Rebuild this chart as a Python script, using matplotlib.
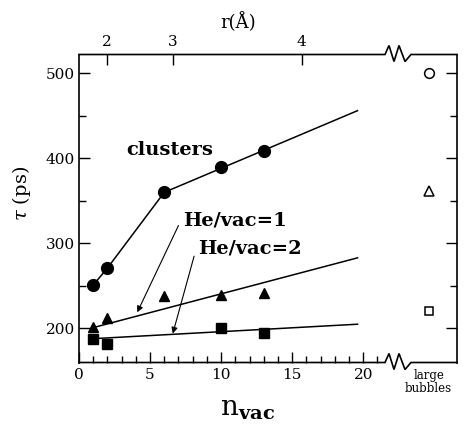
import matplotlib
matplotlib.use("Agg")
import matplotlib.pyplot as plt
from matplotlib import transforms
import numpy as np

plt.rcParams["font.family"] = "DejaVu Serif"
plt.rcParams["mathtext.fontset"] = "dejavuserif"

# lifetimes of vacancy clusters and helium-filled clusters
n_vac = [1, 2, 6, 10, 13]
tau_clusters = [251, 271, 360, 390, 409]
tau_he1 = [202, 212, 238, 239, 242]
n_vac_he2 = [1, 2, 10, 13]
tau_he2 = [188, 182, 200, 195]

# straight-line trends
cluster_fit_n = [6, 19.6]
cluster_fit_tau = [360, 456]
he1_fit_n = [1, 19.6]
he1_fit_tau = [201, 283]
he2_fit_n = [1, 19.6]
he2_fit_tau = [188, 205]

# large bubbles limit
bubble_tau = [500, 362, 221]
bubble_markers = ["o", "^", "s"]

# cluster radius scale: n_vac = R_COEF * r**3
R_COEF = 0.245
r_ticks = [2, 3, 4]

fig = plt.figure(figsize=(4.64, 4.26), dpi=100)
W, H = 464, 426
left, right, top, bottom = 79, 457, 54.5, 362.5
ax = fig.add_axes([left / W, 1 - bottom / H, (right - left) / W, (bottom - top) / H])
ax.set_xlim(0, 26.6)
ax.set_ylim(160, 522)

lw = 1.1
ax.plot(n_vac[:3], tau_clusters[:3], "-", color="black", lw=lw)
ax.plot(cluster_fit_n, cluster_fit_tau, "-", color="black", lw=lw)
ax.plot(he1_fit_n, he1_fit_tau, "-", color="black", lw=lw)
ax.plot(he2_fit_n, he2_fit_tau, "-", color="black", lw=lw)

ax.plot(n_vac, tau_clusters, "o", color="black", ms=8.5, ls="none")
ax.plot(n_vac, tau_he1, "^", color="black", ms=7.5, ls="none")
ax.plot(n_vac_he2, tau_he2, "s", color="black", ms=6.5, ls="none")

bubble_x = 24.6
for t, m in zip(bubble_tau, bubble_markers):
    ax.plot([bubble_x], [t], m, mfc="white", mec="black", mew=1.1,
            ms=7 if m != "s" else 6, ls="none")

# axes frame: broken top and bottom spines
ax.spines["top"].set_visible(False)
ax.spines["bottom"].set_visible(False)
for s in ("left", "right"):
    ax.spines[s].set_linewidth(1.2)

px_per_n = (right - left) / 26.6
ax_h = bottom - top
zig_px = [385, 389, 394, 399, 405, 411]
zig_dy = [0, 9, -7, 9, -7, 0]
zx = [(p - left) / px_per_n for p in zig_px]
trans = transforms.blended_transform_factory(ax.transData, ax.transAxes)
for base in (0.0, 1.0):
    xs = [0] + zx + [26.6]
    ys = [base] + [base + d / ax_h for d in zig_dy] + [base]
    ax.plot(xs, ys, color="black", lw=1.2, transform=trans, clip_on=False,
            solid_joinstyle="miter")

# ticks
ax.set_xticks([0, 5, 10, 15, 20])
ax.set_xticks(np.arange(0, 22), minor=True)
ax.set_yticks([200, 300, 400, 500])
ax.set_yticks([250, 350, 450], minor=True)
ax.tick_params(which="both", direction="in", right=True, top=False,
               width=1, labelsize=11, pad=3)
ax.tick_params(which="major", length=8)
ax.tick_params(which="minor", length=5)
ax.tick_params(axis="x", which="major", pad=4)

sec = ax.secondary_xaxis("top", functions=(
    lambda n: np.cbrt(np.asarray(n, dtype=float) / R_COEF),
    lambda r: R_COEF * np.asarray(r, dtype=float) ** 3))
sec.set_xticks(r_ticks)
sec.spines["top"].set_visible(False)
sec.tick_params(direction="in", length=8, width=1, labelsize=11, pad=4)

# text labels
ax.text(6.4, 410, "clusters", fontsize=14, fontweight="bold", ha="center", va="center")
ax.text(7.3, 327, "He/vac=1", fontsize=14, fontweight="bold", ha="left", va="center")
ax.text(8.4, 294, "He/vac=2", fontsize=14, fontweight="bold", ha="left", va="center")
arrow_style = dict(arrowstyle="-|>", color="black", lw=0.8, mutation_scale=9,
                   shrinkA=0, shrinkB=0)
ax.annotate("", xy=(4.1, 219), xytext=(7.0, 321), arrowprops=arrow_style)
ax.annotate("", xy=(6.6, 194), xytext=(8.1, 285), arrowprops=arrow_style)

ax.text(bubble_x, -0.02, "large\nbubbles", transform=trans, fontsize=8.5,
        ha="center", va="top", linespacing=1.0)

fig.text(247 / W, 1 - 408 / H, r"$\mathrm{n}_{\mathbf{vac}}$", fontsize=20,
         ha="center", va="center")
fig.text(22 / W, 1 - 193 / H, r"$\tau$ (ps)", fontsize=14, rotation=90,
         ha="center", va="center")
fig.text(238 / W, 1 - 22 / H, "r(Å)", fontsize=13, ha="center", va="center")

fig.savefig("out.png", dpi=100)
